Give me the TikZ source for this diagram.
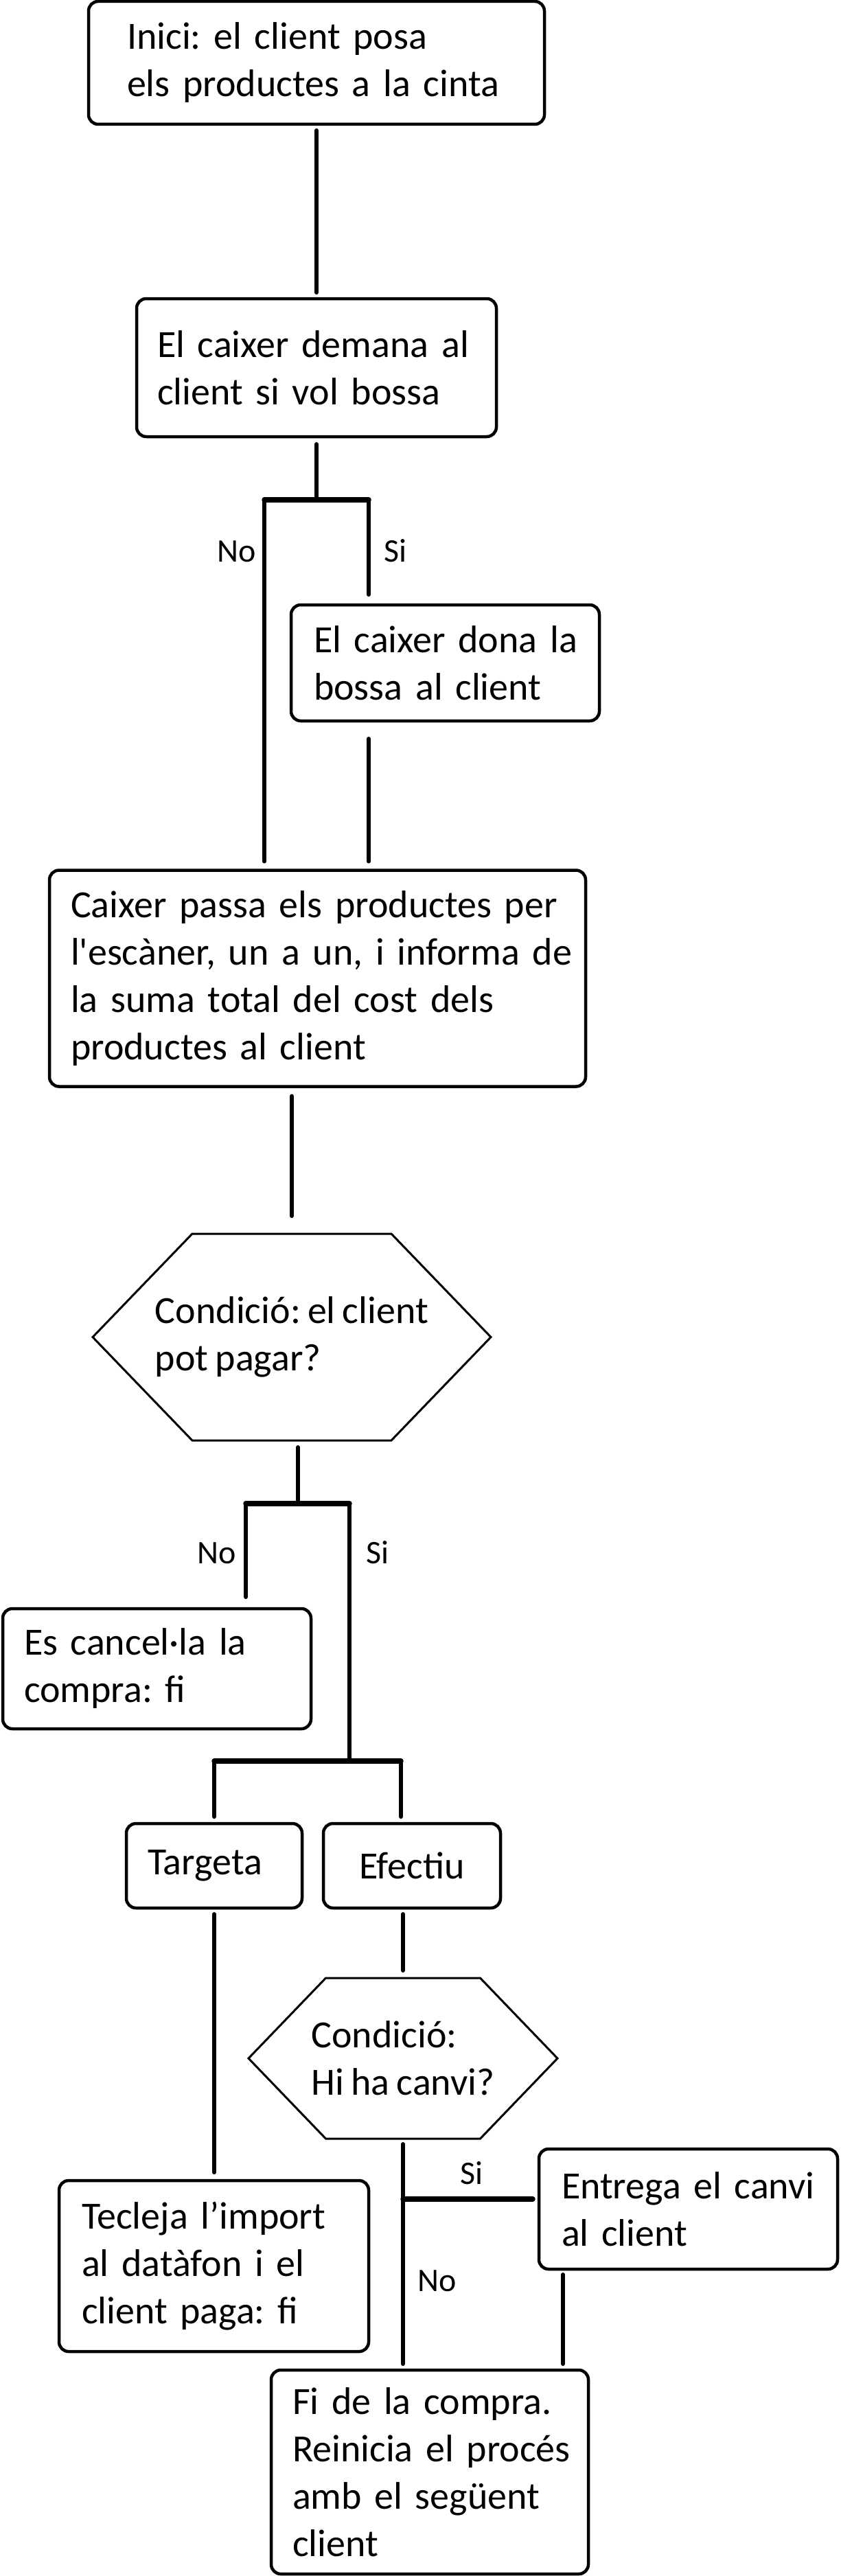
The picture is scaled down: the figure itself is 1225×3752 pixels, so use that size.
\documentclass[tikz,border=0pt]{standalone}
\usepackage{fontspec}
\setmainfont{Carlito}[Ligatures=TeXOff, WordSpace=0.8]
\usetikzlibrary{calc}
\frenchspacing
\newcommand\Ln[1]{\mbox{#1}}
\begin{document}
\begin{tikzpicture}[x=1pt,y=-1pt,
  box/.style={draw, line width=4.5pt, rounded corners=14pt, align=left, inner ysep=0pt, outer sep=0pt,
    font=\fontsize{56}{69}\selectfont},
  hexnode/.style={align=left, inner sep=0pt, outer sep=0pt, font=\fontsize{56}{69}\selectfont},
  hexline/.style={line width=3pt, line join=miter},
  conn/.style={line width=6pt, line cap=round},
  bar/.style={line width=7.5pt, line cap=round, line join=miter},
  lab/.style={inner sep=0pt, anchor=base west, font=\fontsize{48}{55}\selectfont}]
\useasboundingbox (0,0) rectangle (1225,3752);

% boxes
\node[box, minimum width=664pt, minimum height=179pt, inner xsep=56pt, text width=552pt] (b1) at (461,91.5)
  {\Ln{Inici: el client posa}\\\Ln{els productes a la cinta}};
\node[box, minimum width=524pt, minimum height=201pt, inner xsep=30pt, text width=464pt] (b2) at (461,535.5)
  {\Ln{El caixer demana al}\\\Ln{client si vol bossa}};
\node[box, minimum width=449pt, minimum height=169pt, inner xsep=33pt, text width=383pt] (b3) at (648.5,965.5)
  {\Ln{El caixer dona la}\\\Ln{bossa al client}};
\node[box, minimum width=781pt, minimum height=315pt, inner xsep=31pt, text width=719pt] (b4) at (462.5,1425)
  {\Ln{Caixer passa els productes per}\\\Ln{l'escàner, un a un, i informa de}\\\Ln{la suma total del cost dels}\\\Ln{productes al client}};
\node[hexnode, minimum width=580pt, minimum height=301pt] (h1) at (425,1947.5)
  {Condició: el client\\pot pagar?};
\node[box, minimum width=449pt, minimum height=175pt, inner xsep=31pt, text width=387pt] (b5) at (228.5,2430.5)
  {\Ln{Es cancel·la la}\\\Ln{compra: fi}};
\node[box, minimum width=256pt, minimum height=123pt, inner xsep=31pt, text width=194pt] (bt) at (312,2717.5)
  {\Ln{Targeta}};
\node[box, minimum width=258pt, minimum height=123pt, inner xsep=20pt, text width=218pt, align=center] (be) at (600,2717.5)
  {\Ln{Efectiu}};
\node[hexnode, minimum width=450pt, minimum height=234pt] (h2) at (587,2998)
  {Condició:\\Hi ha canvi?};
\node[box, minimum width=451pt, minimum height=249pt, inner xsep=33pt, text width=385pt] (bk) at (311.5,3300.5)
  {\Ln{Tecleja l’import}\\\Ln{al datàfon i el}\\\Ln{client paga: fi}};
\node[box, minimum width=435pt, minimum height=175pt, inner xsep=33pt, text width=369pt] (bg) at (1002.5,3217.5)
  {\Ln{Entrega el canvi}\\\Ln{al client}};
\node[box, minimum width=462pt, minimum height=297pt, inner xsep=31pt, text width=400pt] (bf) at (626,3600.5)
  {\Ln{Fi de la compra.}\\\Ln{Reinicia el procés}\\\Ln{amb el següent}\\\Ln{client}};

% hexagons
\foreach \h in {h1,h2}{
  \draw[hexline] (\h.west) -- ($(\h.north west)!.25!(\h.north east)$) -- ($(\h.north west)!.75!(\h.north east)$)
    -- (\h.east) -- ($(\h.south west)!.75!(\h.south east)$) -- ($(\h.south west)!.25!(\h.south east)$) -- cycle;
}

% junction coordinates
\coordinate (j1) at (461,728);
\coordinate (j1L) at (385,728);
\coordinate (j1R) at (537,728);
\coordinate (j2) at (434,2190);
\coordinate (j2L) at (358,2190);
\coordinate (j2R) at (509,2190);
\coordinate (j3) at (509,2565);
\coordinate (j3L) at (312,2565);
\coordinate (j3R) at (584,2565);
\coordinate (j4) at (587,3203);
\coordinate (j5) at (820,3305);

% connectors
\draw[conn, shorten <=9pt, shorten >=9pt] (b1) -- (b2);
\draw[conn, shorten <=11pt] (b2) -- (j1);
\draw[bar] (j1L) -- (j1R);
\draw[conn, shorten >=13pt] (j1L) -- (j1L |- b4.north);
\draw[conn, shorten >=15pt] (j1R) -- (j1R |- b3.north);
\draw[conn, shorten <=26pt, shorten >=13pt] (j1R |- b3.south) -- (j1R |- b4.north);
\draw[conn, shorten <=14pt, shorten >=26pt] (h1.north |- b4.south) -- (h1.north);
\draw[conn, shorten <=10pt] (j2 |- h1.south) -- (j2);
\draw[bar] (j2L) -- (j2R);
\draw[conn, shorten >=17pt] (j2L) -- (j2L |- b5.north);
\draw[conn] (j2R) -- (j3);
\draw[bar] (j3L) -- (j3R);
\draw[conn, shorten >=10pt] (j3L) -- (j3L |- bt.north);
\draw[conn, shorten >=10pt] (j3R) -- (j3R |- be.north);
\draw[conn, shorten <=9pt, shorten >=12pt] (bt.south) -- (bt.south |- bk.north);
\draw[conn, shorten <=9pt, shorten >=11pt] (h2.north |- be.south) -- (h2.north);
\draw[conn, shorten <=8pt, shorten >=9pt] (h2.south) -- (h2.south |- bf.north);
\draw[bar, shorten >=9pt] (j4) -- (j4 -| bg.west);
\draw[conn, shorten <=8pt, shorten >=9pt] (j5) -- (j5 |- bf.north);

% labels
\node[lab] (l1) at (316,818) {No};
\node[lab] (l2) at (559,818) {Si};
\node[lab] (l3) at (287,2277) {No};
\node[lab] (l4) at (533,2277) {Si};
\node[lab] (l5) at (670,3181) {Si};
\node[lab] (l6) at (608,3337) {No};
\end{tikzpicture}
\end{document}
